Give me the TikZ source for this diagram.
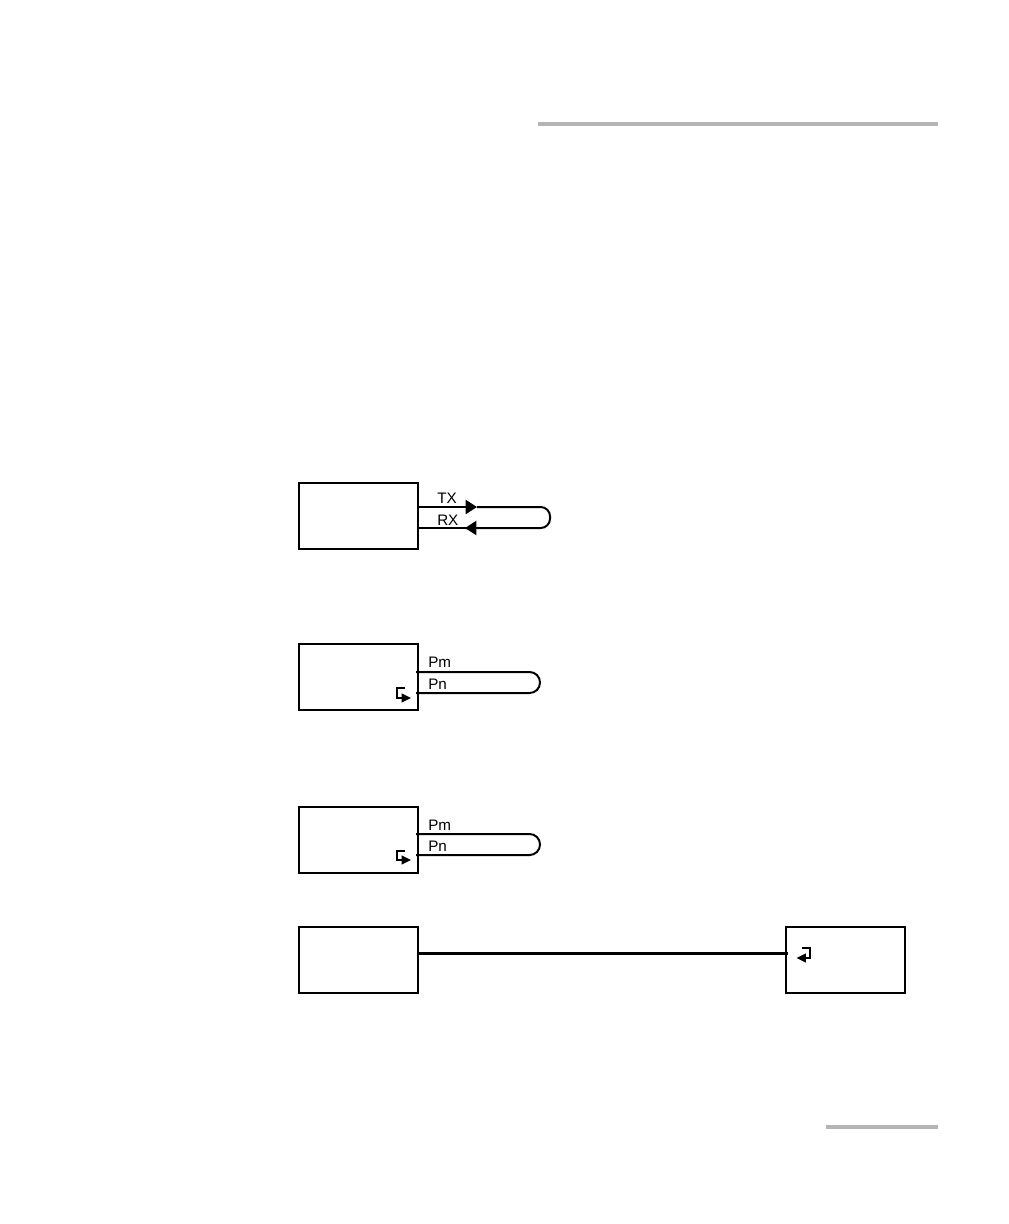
\documentclass[tikz,border=0pt]{standalone}
\usepackage{fontspec}
\setmainfont{Liberation Sans}
\usetikzlibrary{arrows.meta}
\definecolor{barcol}{HTML}{B5B5B5}
\tikzset{
  blockbox/.style={draw=black,line width=1.5pt,fill=white,minimum width=89.25pt,minimum height=49.5pt,inner sep=0pt,outer sep=0pt},
  wire/.style={draw=black,line width=1.5pt,rounded corners=7pt},
  tipped/.style={wire,-{Triangle[length=8.5pt,width=10.5pt]}},
  smallarrow/.style={draw=black,line width=1.5pt,-{Triangle[length=7pt,width=6.5pt]}},
  lab/.style={font=\fontsize{11.4pt}{13pt}\selectfont,inner sep=0pt,anchor=base west},
  bar/.style={draw=barcol,line width=3pt}
}
\begin{document}
\begin{tikzpicture}[x=0.75pt,y=-0.75pt]
\useasboundingbox[fill=white] (0,0) rectangle (1008,1224);
% grey rules
\coordinate (topL) at (538,124); \coordinate (topR) at (938,124);
\coordinate (botL) at (826,1127); \coordinate (botR) at (938,1127);
\draw[bar] (topL) -- (topR);
\draw[bar] (botL) -- (botR);
% boxes
\node[blockbox] (b1) at (358.5,516) {};
\node[blockbox] (b2) at (358.5,677) {};
\node[blockbox] (b3) at (358.5,840) {};
\node[blockbox] (b4) at (358.5,960) {};
\node[blockbox] (b5) at (845.5,959.5) {};
% TX / RX loop
\coordinate (txs) at (418,507); \coordinate (txt) at (477,507);
\coordinate (rxs) at (418,528); \coordinate (rxt) at (465,528);
\coordinate (l1a) at (550,507); \coordinate (l1b) at (550,528);
\draw[tipped,rounded corners=0pt] (txs) -- (txt);
\draw[wire] (txt) -- (l1a) -- (l1b) -- (rxt);
\draw[tipped,rounded corners=0pt] (l1b) ++(-10,0) -- (rxt);
\draw[wire] (rxt) -- (rxs);
\node[lab] (tx) at (437,503) {TX};
\node[lab] (rx) at (437,525) {RX};
% Pm / Pn loop 1
\coordinate (p1s) at (416,672); \coordinate (p1e) at (416,693);
\coordinate (p1a) at (540,672); \coordinate (p1b) at (540,693);
\draw[wire,rounded corners=7.8pt] (p1s) -- (p1a) -- (p1b) -- (p1e);
\node[lab] (pm1) at (428,667) {Pm};
\node[lab] (pn1) at (428,689) {Pn};
\coordinate (a1a) at (405,688); \coordinate (a1b) at (397,688);
\coordinate (a1c) at (397,698); \coordinate (a1d) at (411,698);
\draw[smallarrow] (a1a) -- (a1b) -- (a1c) -- (a1d);
% Pm / Pn loop 2
\coordinate (p2s) at (416,834); \coordinate (p2e) at (416,855);
\coordinate (p2a) at (540,834); \coordinate (p2b) at (540,855);
\draw[wire,rounded corners=7.8pt] (p2s) -- (p2a) -- (p2b) -- (p2e);
\node[lab] (pm2) at (428,830) {Pm};
\node[lab] (pn2) at (428,851) {Pn};
\coordinate (a2a) at (405,851); \coordinate (a2b) at (397,851);
\coordinate (a2c) at (397,860); \coordinate (a2d) at (411,860);
\draw[smallarrow] (a2a) -- (a2b) -- (a2c) -- (a2d);
% long link
\coordinate (le) at (788,953.5);
\draw[wire,line width=2.25pt] (b4.east |- le) -- (le);
\coordinate (a3a) at (802,948); \coordinate (a3b) at (810,948);
\coordinate (a3c) at (810,958); \coordinate (a3d) at (796.5,958);
\draw[smallarrow] (a3a) -- (a3b) -- (a3c) -- (a3d);
\end{tikzpicture}
\end{document}
